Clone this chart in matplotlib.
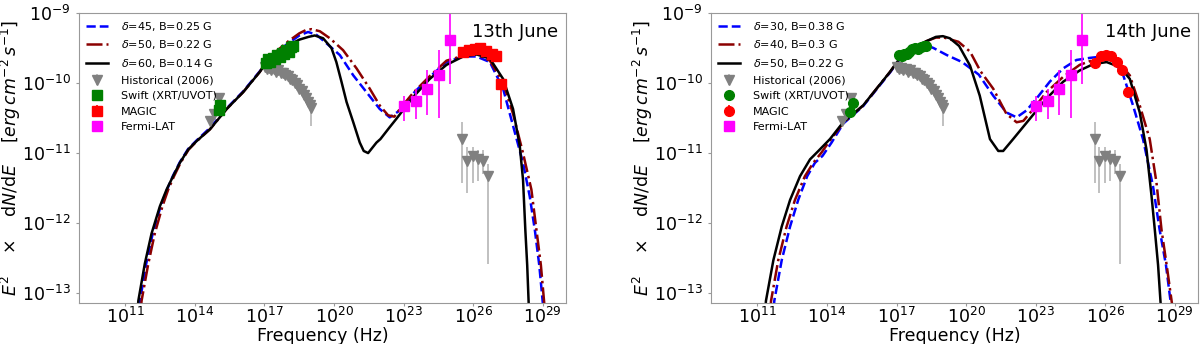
import numpy as np
import matplotlib
matplotlib.use("Agg")
import matplotlib.pyplot as plt

# ---- model curves as (log10 nu, log10 E^2 dN/dE) ----
# 13th June
l13_d45_nu = [11.61, 11.63, 11.90, 12.18, 12.52, 12.80, 13.06, 13.35, 13.71, 14.07, 14.65, 15.37, 16.08,
              16.80, 17.04, 17.50, 18.04, 18.50, 18.88, 19.24, 19.67, 20.25, 20.83, 21.40, 21.97, 22.40,
              22.84, 23.41, 24.13, 24.85, 25.57, 26.14, 26.72, 27.29, 27.72, 28.15, 28.44, 28.66, 28.85, 29.02]
l13_d45_f = [-13.20, -13.11, -12.58, -12.15, -11.76, -11.52, -11.32, -11.13, -10.94, -10.82, -10.64, -10.36, -10.12,
             -9.83, -9.71, -9.56, -9.43, -9.32, -9.27, -9.31, -9.43, -9.60, -9.89, -10.13, -10.37, -10.49,
             -10.39, -10.15, -9.91, -9.70, -9.62, -9.62, -9.70, -10.08, -10.61, -11.14, -11.62, -12.10, -12.60, -13.20]

l13_d50_nu = [11.68, 11.70, 11.99, 12.27, 12.60, 12.85, 13.10, 13.38, 13.73, 14.08, 14.65, 15.37, 16.08,
              16.80, 17.04, 17.50, 18.04, 18.50, 18.80, 19.03, 19.39, 19.82, 20.39, 20.97, 21.54, 21.97,
              22.33, 22.60, 22.84, 23.41, 24.13, 24.85, 25.57, 26.14, 26.72, 27.29, 27.72, 28.15, 28.51,
              28.73, 28.92, 29.08]
l13_d50_f = [-13.20, -13.11, -12.58, -12.15, -11.76, -11.52, -11.33, -11.14, -10.95, -10.83, -10.66, -10.37, -10.13,
             -9.84, -9.71, -9.55, -9.40, -9.29, -9.24, -9.23, -9.26, -9.36, -9.53, -9.79, -10.08, -10.32,
             -10.46, -10.48, -10.37, -10.14, -9.90, -9.68, -9.61, -9.59, -9.68, -9.99, -10.44, -11.00, -11.52,
             -12.10, -12.60, -13.20]

l13_d60_nu = [11.54, 11.56, 11.84, 12.13, 12.49, 12.78, 13.06, 13.35, 13.71, 14.07, 14.65, 15.37, 16.08,
              16.80, 17.04, 17.50, 18.04, 18.50, 18.90, 19.17, 19.53, 19.89, 20.10, 20.32, 20.54, 20.83,
              21.11, 21.28, 21.47, 21.83, 22.00, 22.40, 22.69, 23.41, 24.13, 24.85, 25.57, 26.14, 26.72,
              27.29, 27.72, 28.01, 28.15, 28.25, 28.33, 28.40]
l13_d60_f = [-13.20, -13.11, -12.58, -12.15, -11.76, -11.52, -11.33, -11.14, -10.95, -10.83, -10.66, -10.37, -10.13,
             -9.84, -9.72, -9.58, -9.46, -9.38, -9.34, -9.32, -9.36, -9.50, -9.70, -9.98, -10.27, -10.56,
             -10.85, -10.97, -11.00, -10.85, -10.80, -10.63, -10.51, -10.20, -9.94, -9.74, -9.62, -9.59, -9.65,
             -9.94, -10.37, -10.90, -11.38, -12.10, -12.60, -13.20]

# 14th June
l14_d30_nu = [11.71, 11.73, 12.05, 12.41, 12.76, 13.15, 13.48, 13.81, 14.20, 14.70, 15.56, 16.72, 17.20,
              17.70, 18.30, 18.60, 19.17, 19.83, 20.55, 21.17, 21.74, 22.18, 22.61, 23.04, 23.61, 24.19,
              24.76, 25.34, 25.91, 26.34, 26.78, 27.20, 27.63, 28.06, 28.35, 28.62, 28.85]
l14_d30_f = [-13.20, -13.11, -12.53, -12.05, -11.67, -11.33, -11.14, -11.04, -10.85, -10.58, -10.33, -9.85, -9.63,
             -9.52, -9.46, -9.50, -9.60, -9.70, -9.88, -10.18, -10.42, -10.49, -10.39, -10.22, -9.98, -9.79,
             -9.67, -9.64, -9.62, -9.67, -9.89, -10.32, -10.80, -11.47, -12.10, -12.60, -13.20]

l14_d40_nu = [11.57, 11.59, 11.90, 12.26, 12.62, 13.05, 13.41, 13.77, 14.13, 14.70, 15.56, 16.72, 17.20,
              17.70, 18.30, 18.70, 19.05, 19.67, 20.17, 20.62, 21.17, 21.74, 22.18, 22.47, 22.90, 23.47,
              24.19, 24.90, 25.48, 26.06, 26.63, 27.06, 27.49, 27.92, 28.21, 28.43, 28.65, 28.90]
l14_d40_f = [-13.20, -13.11, -12.53, -12.05, -11.67, -11.33, -11.14, -10.99, -10.82, -10.57, -10.32, -9.84, -9.62,
             -9.50, -9.40, -9.35, -9.35, -9.41, -9.55, -9.83, -10.08, -10.44, -10.56, -10.54, -10.37, -10.13,
             -9.91, -9.74, -9.67, -9.65, -9.72, -9.89, -10.32, -10.80, -11.42, -12.10, -12.60, -13.20]

l14_d50_nu = [11.35, 11.37, 11.69, 12.05, 12.41, 12.84, 13.27, 13.63, 14.13, 14.70, 15.56, 16.72, 17.20,
              17.70, 18.30, 18.70, 19.00, 19.30, 19.70, 20.17, 20.59, 21.03, 21.39, 21.60, 22.03, 22.75,
              23.47, 24.19, 24.90, 25.48, 26.06, 26.63, 27.06, 27.49, 27.78, 28.00, 28.14, 28.28, 28.40]
l14_d50_f = [-13.20, -13.11, -12.53, -12.05, -11.67, -11.33, -11.09, -10.97, -10.80, -10.56, -10.32, -9.84, -9.62,
             -9.50, -9.40, -9.34, -9.33, -9.36, -9.47, -9.75, -10.18, -10.80, -10.97, -10.97, -10.80, -10.51,
             -10.22, -9.98, -9.82, -9.73, -9.70, -9.77, -9.94, -10.42, -10.95, -11.62, -12.10, -12.60, -13.20]

# ---- data points (log10 nu, log10 flux, log10 error bounds) ----
hist_nu = [14.65, 14.82, 15.05, 17.02, 17.10, 17.20, 17.30, 17.40, 17.50, 17.60, 17.70, 17.80, 17.90,
           18.00, 18.10, 18.20, 18.30, 18.40, 18.50, 18.60, 18.70, 18.80, 18.88, 18.95, 19.00,
           25.54, 25.75, 26.00, 26.22, 26.44, 26.63]
hist_f = [-10.54, -10.44, -10.22, -9.77, -9.80, -9.78, -9.81, -9.80, -9.84, -9.82, -9.86, -9.85, -9.89,
          -9.90, -9.94, -9.95, -10.00, -10.03, -10.08, -10.12, -10.17, -10.22, -10.27, -10.31, -10.35,
          -10.80, -11.11, -11.04, -11.09, -11.11, -11.33]
hist_hi = [-10.50, -10.40, -10.18, -9.74, -9.76, -9.75, -9.77, -9.77, -9.80, -9.79, -9.82, -9.82, -9.85,
           -9.86, -9.90, -9.91, -9.96, -9.99, -10.04, -10.08, -10.12, -10.17, -10.22, -10.26, -10.30,
           -10.56, -10.92, -10.92, -10.95, -10.95, -11.15]
hist_lo = [-10.58, -10.48, -10.26, -9.80, -9.84, -9.81, -9.85, -9.84, -9.88, -9.86, -9.90, -9.89, -9.93,
           -9.95, -9.98, -10.00, -10.05, -10.08, -10.13, -10.17, -10.23, -10.28, -10.33, -10.38, -10.61,
           -11.43, -11.57, -11.43, -11.40, -11.30, -12.58]

fermi_nu = [23.02, 23.52, 24.02, 24.53, 25.00]
fermi_f = [-10.33, -10.26, -10.08, -9.89, -9.39]
fermi_hi = [-10.18, -10.08, -9.82, -9.53, -9.02]
fermi_lo = [-10.54, -10.51, -10.46, -10.50, -10.01]

swift13_nu = [15.03, 15.07, 17.05, 17.15, 17.25, 17.35, 17.45, 17.55, 17.65, 17.75, 17.85, 17.95, 18.05, 18.15, 18.25]
swift13_f = [-10.38, -10.31, -9.71, -9.66, -9.70, -9.64, -9.65, -9.60, -9.63, -9.57, -9.58, -9.53, -9.55, -9.49, -9.47]

magic13_nu = [25.57, 25.82, 26.07, 26.31, 26.57, 26.83, 27.00, 27.22]
magic13_f = [-9.56, -9.53, -9.51, -9.50, -9.54, -9.59, -9.62, -10.02]
magic13_hi = [-9.53, -9.50, -9.48, -9.47, -9.51, -9.56, -9.59, -9.94]
magic13_lo = [-9.59, -9.56, -9.54, -9.53, -9.57, -9.62, -9.65, -10.37]

swift14_nu = [15.11, 15.00, 17.12, 17.22, 17.32, 17.45, 17.55, 17.68, 17.80, 17.92, 18.05, 18.18, 18.27]
swift14_f = [-10.28, -10.42, -9.60, -9.61, -9.58, -9.59, -9.55, -9.52, -9.50, -9.51, -9.48, -9.47, -9.47]

magic14_nu = [25.55, 25.84, 26.03, 26.27, 26.51, 26.74, 26.99]
magic14_f = [-9.72, -9.62, -9.60, -9.62, -9.70, -9.82, -10.13]
magic14_hi = [-9.69, -9.59, -9.57, -9.59, -9.67, -9.78, -10.05]
magic14_lo = [-9.75, -9.65, -9.63, -9.65, -9.73, -9.86, -10.22]

x_ticks = [1e11, 1e14, 1e17, 1e20, 1e23, 1e26, 1e29]
y_ticks = [1e-13, 1e-12, 1e-11, 1e-10, 1e-9]

panels = [
    dict(title="13th June",
         curves=[(l13_d45_nu, l13_d45_f, r"$\delta$=45, B=0.25 G"),
                 (l13_d50_nu, l13_d50_f, r"$\delta$=50, B=0.22 G"),
                 (l13_d60_nu, l13_d60_f, r"$\delta$=60, B=0.14 G")],
         swift=(swift13_nu, swift13_f), magic=(magic13_nu, magic13_f, magic13_hi, magic13_lo),
         marker="s"),
    dict(title="14th June",
         curves=[(l14_d30_nu, l14_d30_f, r"$\delta$=30, B=0.38 G"),
                 (l14_d40_nu, l14_d40_f, r"$\delta$=40, B=0.3 G"),
                 (l14_d50_nu, l14_d50_f, r"$\delta$=50, B=0.22 G")],
         swift=(swift14_nu, swift14_f), magic=(magic14_nu, magic14_f, magic14_hi, magic14_lo),
         marker="o"),
]

line_styles = [dict(color="b", ls="--"), dict(color="#8b0000", ls="-."), dict(color="k", ls="-")]


def pw(a):
    return 10.0 ** np.asarray(a)


def yerr(f, hi, lo):
    f = pw(f)
    return [f - pw(lo), pw(hi) - f]


fig = plt.figure(figsize=(12, 3.44), dpi=100)
axes = [fig.add_axes([0.0658, 0.119, 0.4058, 0.843]),
        fig.add_axes([0.5925, 0.119, 0.4058, 0.843])]

for ax, p in zip(axes, panels):
    for (nu, f, lab), st in zip(p["curves"], line_styles):
        ax.plot(pw(nu), pw(f), lw=1.8, label=lab, **st)

    ax.errorbar(pw(hist_nu), pw(hist_f), yerr=yerr(hist_f, hist_hi, hist_lo), fmt="v",
                color="gray", ecolor="#b5b5b5", ms=7, lw=1.2, label="Historical (2006)", zorder=3)
    ax.errorbar(pw(p["swift"][0]), pw(p["swift"][1]), fmt=p["marker"], color="g", ms=7,
                label="Swift (XRT/UVOT)", zorder=4)
    mn, mf, mh, ml = p["magic"]
    ax.errorbar(pw(mn), pw(mf), yerr=yerr(mf, mh, ml), fmt=p["marker"], color="r", ms=7,
                lw=1.2, label="MAGIC", zorder=4)
    ax.errorbar(pw(fermi_nu), pw(fermi_f), yerr=yerr(fermi_f, fermi_hi, fermi_lo), fmt="s",
                color="#ff00ff", ms=7, lw=1.2, label="Fermi-LAT", zorder=4)

    ax.set_xscale("log")
    ax.set_yscale("log")
    ax.set_xlim(1e9, 1e30)
    ax.set_ylim(7.2e-14, 1e-9)
    ax.set_xticks(x_ticks)
    ax.set_yticks(y_ticks)
    ax.xaxis.set_minor_locator(matplotlib.ticker.NullLocator())
    ax.yaxis.set_minor_locator(matplotlib.ticker.NullLocator())
    ax.tick_params(labelsize=12.5, color="0.6", length=2.5)
    ax.tick_params(axis="x", pad=0)
    for s in ax.spines.values():
        s.set_color("0.6")
    ax.set_xlabel("Frequency (Hz)", fontsize=12.5, labelpad=0)
    ax.set_ylabel(r"$E^2$    $\times$    d$N$/d$E$    [$erg\,cm^{-2}\,s^{-1}$]", fontsize=12.5)
    ax.yaxis.set_label_coords(-0.115, 0.5)
    ax.text(0.985, 0.965, p["title"], transform=ax.transAxes, ha="right", va="top", fontsize=13)
    ax.legend(loc="upper left", fontsize=8, frameon=False, numpoints=1,
              borderaxespad=0.2, handletextpad=1.2)

fig.savefig("out.png", dpi=100)
